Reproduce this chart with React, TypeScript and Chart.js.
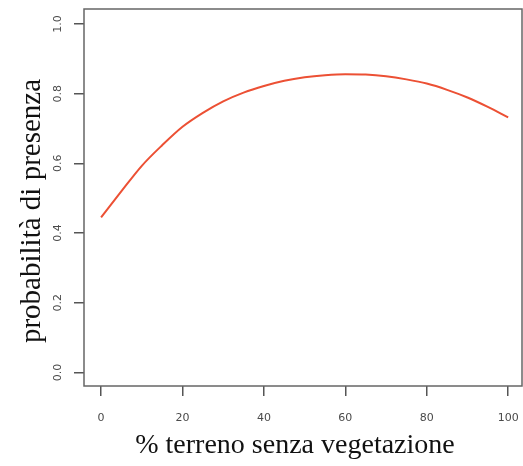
import React, { useEffect, useRef } from "react";
import { Chart, registerables } from "chart.js";

Chart.register(...registerables);

const xValues = [0, 5, 10, 15, 20, 25, 30, 35, 40, 45, 50, 55, 60, 65, 70, 75, 80, 85, 90, 95, 100];
const probValues = [0.445, 0.52, 0.593, 0.652, 0.705, 0.745, 0.778, 0.803, 0.822, 0.837, 0.847, 0.853, 0.856, 0.855, 0.85, 0.841, 0.829, 0.811, 0.789, 0.762, 0.732];
const xTicks = [0, 20, 40, 60, 80, 100];
const yTicks = [0.0, 0.2, 0.4, 0.6, 0.8, 1.0];
const xTitle = "% terreno senza vegetazione";
const yTitle = "probabilità di presenza";

const boxPlugin = {
  id: "boxAndYLabels",
  afterDraw(chart: any) {
    const { ctx, chartArea } = chart;
    const yScale = chart.scales.y;
    ctx.save();
    ctx.strokeStyle = "#666";
    ctx.lineWidth = 1.5;
    ctx.strokeRect(chartArea.left, chartArea.top, chartArea.right - chartArea.left, chartArea.bottom - chartArea.top);
    ctx.fillStyle = "#4a4a4a";
    ctx.font = "11px 'DejaVu Sans'";
    ctx.textAlign = "center";
    ctx.textBaseline = "middle";
    for (const v of yTicks) {
      const py = yScale.getPixelForValue(v);
      ctx.save();
      ctx.translate(58, py);
      ctx.rotate(-Math.PI / 2);
      ctx.fillText(v.toFixed(1), 0, 0);
      ctx.restore();
    }
    // axis titles
    ctx.fillStyle = "#111";
    ctx.textBaseline = "alphabetic";
    ctx.font = "28px 'Liberation Serif'";
    ctx.fillText(xTitle, 295, 453);
    ctx.save();
    ctx.translate(40, 211);
    ctx.rotate(-Math.PI / 2);
    ctx.font = "29px 'Liberation Serif'";
    ctx.fillText(yTitle, 0, 0);
    ctx.restore();
    ctx.restore();
  },
};

export default function App() {
  const ref = useRef<HTMLCanvasElement | null>(null);
  useEffect(() => {
    if (!ref.current) return;
    const chart = new Chart(ref.current, {
      type: "line",
      data: {
        datasets: [
          {
            data: xValues.map((x, i) => ({ x, y: probValues[i] })),
            borderColor: "rgb(236,80,52)",
            borderWidth: 2,
            pointRadius: 0,
            cubicInterpolationMode: "monotone",
            fill: false,
          },
        ],
      },
      options: {
        animation: false,
        responsive: false,
        events: [],
        layout: { padding: { left: 0, top: 9, right: 1, bottom: 0 } },
        plugins: { legend: { display: false }, tooltip: { enabled: false } },
        scales: {
          x: {
            type: "linear",
            min: -4.2,
            max: 103.4,
            afterBuildTicks: (s: any) => {
              s.ticks = xTicks.map((v) => ({ value: v }));
            },
            afterFit: (s: any) => {
              s.height = 80;
              s.paddingLeft = 0;
              s.paddingRight = 0;
            },
            border: { display: false },
            grid: { drawOnChartArea: false, drawTicks: true, tickLength: 10, tickColor: "#555", lineWidth: 1.5 },
            ticks: {
              color: "#4a4a4a",
              font: { family: "'DejaVu Sans'", size: 11 },
              padding: 16,
              maxRotation: 0,
              callback: (v: any) => String(v),
            },
          },
          y: {
            type: "linear",
            min: -0.039,
            max: 1.043,
            afterBuildTicks: (s: any) => {
              s.ticks = yTicks.map((v) => ({ value: v }));
            },
            afterFit: (s: any) => {
              s.width = 84;
              s.paddingTop = 0;
              s.paddingBottom = 0;
            },
            border: { display: false },
            grid: { drawOnChartArea: false, drawTicks: true, tickLength: 10, tickColor: "#555", lineWidth: 1.5 },
            ticks: { display: false },
          },
        },
      },
      plugins: [boxPlugin],
    });
    return () => chart.destroy();
  }, []);
  return (
    <div style={{ position: "fixed", left: 0, top: 0, width: 523, height: 466, background: "#fff" }}>
      <canvas ref={ref} width={523} height={466} style={{ display: "block" }} />
    </div>
  );
}
